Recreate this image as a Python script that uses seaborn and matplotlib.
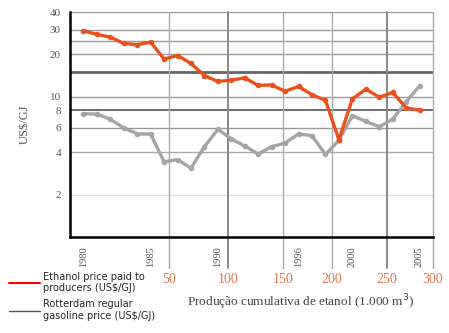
import matplotlib
matplotlib.use("Agg")
import matplotlib.pyplot as plt
import seaborn as sns
import pandas as pd
from matplotlib.lines import Line2D

years = list(range(1980, 2006))
ethanol = [29.4, 27.7, 26.5, 23.9, 23.4, 24.4, 18.5, 19.6, 17.2, 14.1, 12.8, 13.1, 13.6,
           12.0, 12.1, 10.9, 11.8, 10.3, 9.4, 4.93, 9.6, 11.3, 9.9, 10.7, 8.3, 8.0]
gasoline = [7.55, 7.5, 6.9, 5.97, 5.43, 5.4, 3.43, 3.56, 3.09, 4.4, 5.84, 5.0, 4.44,
            3.9, 4.4, 4.66, 5.43, 5.26, 3.87, 4.88, 7.3, 6.66, 6.1, 6.9, 9.16, 11.9]
ytick_vals = [2, 4, 6, 8, 10, 15, 20, 25, 30, 40]
ytick_labels = ["2", "4", "6", "8", "10", "", "20", "", "30", "40"]
year_labels = [1980, 1985, 1990, 1996, 2000, 2005]
prod_ticks = [50, 100, 150, 200, 250, 300]
prod_year_pos = [1986.38, 1990.76, 1994.84, 1998.47, 2002.55, 2006.0]

df = pd.DataFrame({
    "year": years * 2,
    "value": ethanol + gasoline,
    "series": ["ethanol"] * len(years) + ["gasoline"] * len(years),
})

sns.set_style("white")
serif = ["Liberation Serif", "DejaVu Serif"]
fig = plt.figure(figsize=(4.49, 3.33), dpi=100)
ax = fig.add_axes([70 / 449, 1 - 237 / 333, (433 - 70) / 449, (237 - 12) / 333])
ax.set_yscale("log")
ax.set_ylim(1, 40)
ax.set_xlim(1979, 2006)

# horizontal grid
grid_style = {2: ("#dddddd", 1.0), 4: ("#aaaaaa", 1.0), 6: ("#999999", 1.0), 8: ("#555555", 1.2),
              10: ("#999999", 1.0), 15: ("#666666", 2.0), 20: ("#999999", 1.0), 25: ("#999999", 1.0),
              30: ("#999999", 1.0), 40: ("#999999", 1.0)}
for v in ytick_vals:
    c, lw = grid_style[v]
    ax.axhline(v, color=c, lw=lw, zorder=1)

# vertical production lines
for i, (p, xp) in enumerate(zip(prod_ticks, prod_year_pos)):
    dark = p in (100, 250)
    ax.axvline(xp, ymin=-0.138, ymax=1, color="#888888" if dark else "#aaaaaa",
               lw=1.4 if dark else 1.0, clip_on=False, zorder=1)
    ax.text(xp, -0.19, str(p), transform=ax.get_xaxis_transform(), ha="center", va="center",
            color="#e0784a", fontsize=10, family=serif)

sns.lineplot(data=df, x="year", y="value", hue="series",
             palette={"ethanol": "#e8501e", "gasoline": "#a5a5a8"},
             hue_order=["gasoline", "ethanol"],
             marker="o", markersize=4, markeredgewidth=0, lw=2.4, legend=False, ax=ax, zorder=3)

for s in ["top", "right"]:
    ax.spines[s].set_visible(False)
ax.spines["left"].set_color("black")
ax.spines["left"].set_linewidth(1.8)
ax.spines["bottom"].set_color("black")
ax.spines["bottom"].set_linewidth(1.8)

ax.set_yticks(ytick_vals)
ax.set_yticklabels(ytick_labels)
ax.yaxis.set_minor_locator(matplotlib.ticker.NullLocator())
ax.tick_params(axis="y", which="major", direction="inout", length=9, width=1.5, color="black",
               labelsize=8, labelcolor="#555555", pad=2)
for t in ax.get_yticklabels():
    t.set_family(serif)

ax.set_xticks(years)
ax.set_xticklabels([str(y) if y in year_labels else "" for y in years], rotation=90)
ax.tick_params(axis="x", direction="inout", length=9, width=1.5, color="black",
               labelsize=7.5, labelcolor="#555555", pad=2)
for t in ax.get_xticklabels():
    t.set_family(serif)

ax.set_xlabel("")
ax.set_ylabel("US$/GJ", family=serif, fontsize=9, color="#555555", labelpad=14)

fig.text(301 / 449, 1 - 302 / 333, "Produção cumulativa de etanol (1.000 m$^3$)",
         ha="center", va="center", family=serif, fontsize=9.5, color="#444444")

handles = [Line2D([], [], color="#ff0000", lw=1.5), Line2D([], [], color="#555555", lw=1.0)]
labels = ["Ethanol price paid to\nproducers (US$/GJ)", "Rotterdam regular\ngasoline price (US$/GJ)"]
fig.legend(handles, labels, loc="upper left", bbox_to_anchor=(0 / 449, 1 - 263 / 333),
           frameon=False, fontsize=7, handlelength=3.2, handletextpad=0.3, labelspacing=0.6,
           prop={"family": "DejaVu Sans", "size": 7})

fig.savefig("out.png", dpi=100)
